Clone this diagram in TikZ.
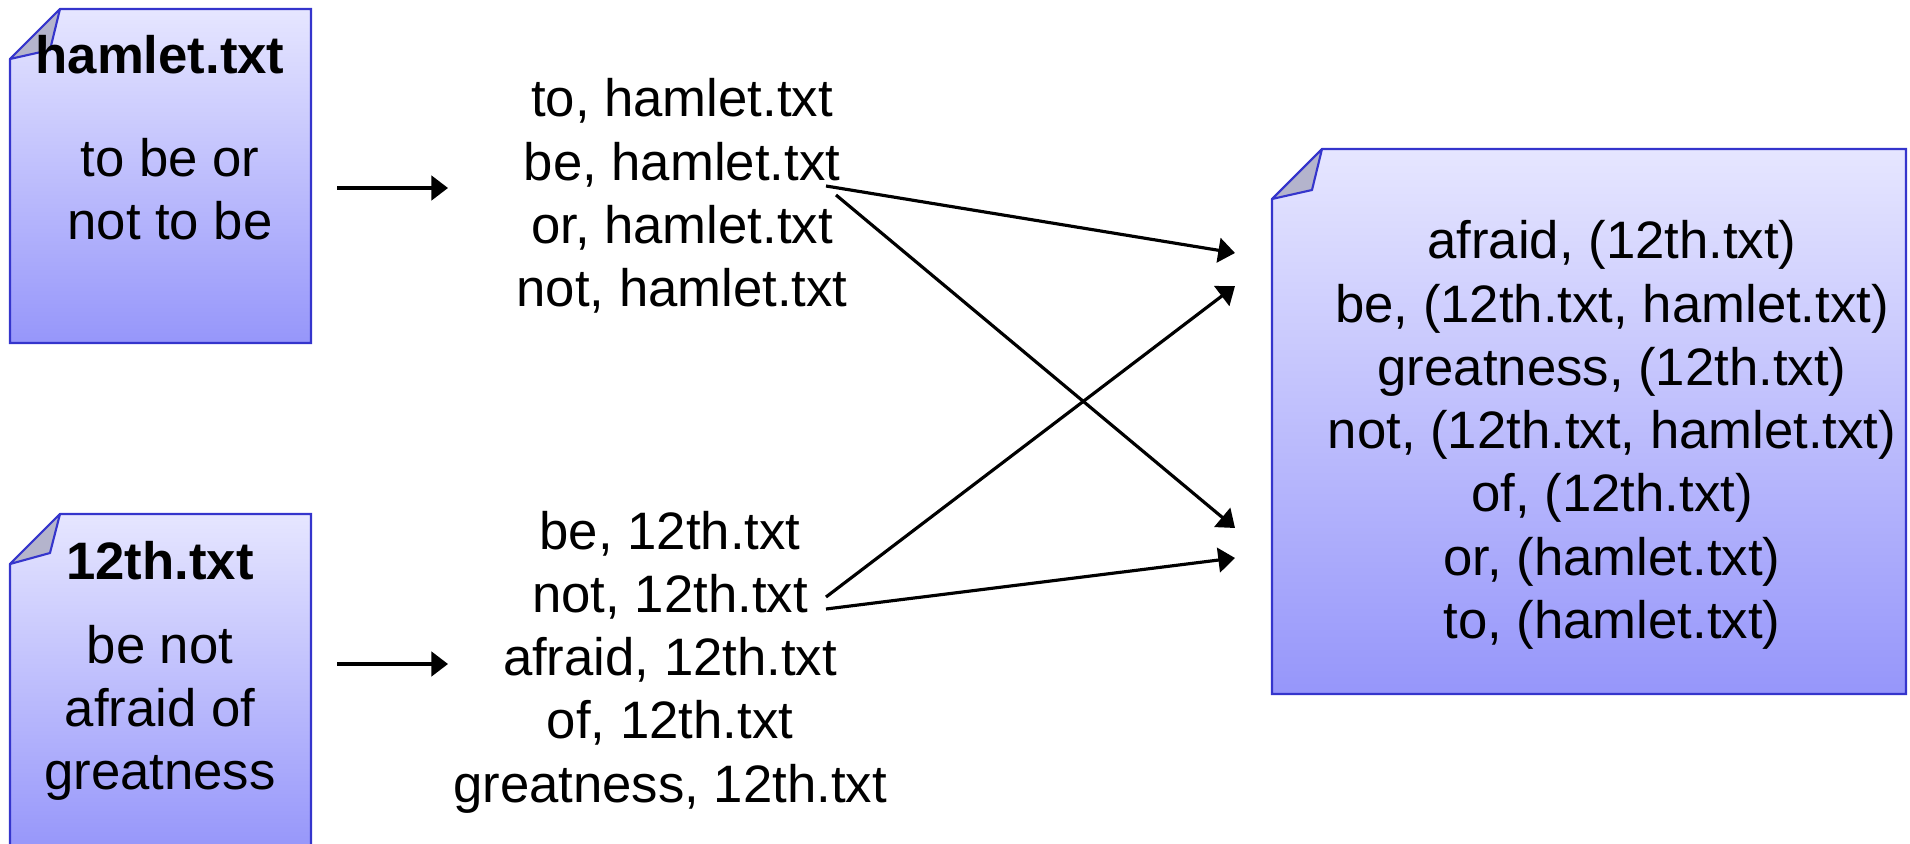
\documentclass[tikz,border=0pt]{standalone}
\usepackage{fontspec}
\setmainfont{Liberation Sans}
\usetikzlibrary{arrows.meta}
\definecolor{docblue}{HTML}{3535CC}
\definecolor{doctop}{HTML}{E6E6FF}
\definecolor{docbottom}{HTML}{9696FA}
\definecolor{earfill}{HTML}{B4B4CC}
\begin{document}
\begin{tikzpicture}[
        x=0.02cm, y=-0.02cm,
        font=\fontsize{30}{36}\selectfont
    ]
    \tikzset{
        docpage/.style = {draw=docblue, line width=1.2pt, top color=doctop, bottom color=docbottom},
        dogear/.style = {draw=docblue, line width=1.2pt, fill=earfill, line join=round},
        wordlist/.style = {align=center, inner sep=0pt},
        doctitle/.style = {inner sep=0pt, font=\fontsize{30}{36}\selectfont\bfseries},
        arr/.style = {-{Triangle[length=9.5pt, width=14pt]}, line width=1.8pt},
    }
    \useasboundingbox (0,0) rectangle (1910,844);
    \shade[docpage] (60,9) -- (311,9) -- (311,343) -- (10,343) -- (10,59) -- cycle;
    \filldraw[dogear] (60,9) -- (50,50) -- (10,59) -- cycle;
    \shade[docpage] (60,514) -- (311,514) -- (311,850) -- (10,850) -- (10,564) -- cycle;
    \filldraw[dogear] (60,514) -- (50,553) -- (10,564) -- cycle;
    \shade[docpage] (1322,149) -- (1906,149) -- (1906,694) -- (1272,694) -- (1272,199) -- cycle;
    \filldraw[dogear] (1322,149) -- (1312,190) -- (1272,199) -- cycle;
    \node[doctitle] (hamlettitle) at (160,55) {hamlet.txt};
    \node[wordlist] (hamlettext) at (170,189) {to be or\\not to be};
    \node[doctitle] (twelfthtitle) at (160,561) {12th.txt};
    \node[wordlist] (twelfthtext) at (160,713) {be not\\afraid of\\greatness};
    \node[wordlist] (hamletmap) at (682,196) {to, hamlet.txt\\be, hamlet.txt\\or, hamlet.txt\\not, hamlet.txt};
    \node[wordlist] (twelfthmap) at (670,662) {be, 12th.txt\\not, 12th.txt\\afraid, 12th.txt\\of, 12th.txt\\greatness, 12th.txt};
    \node[wordlist] (index) at (1612,435) {afraid, (12th.txt)\\be, (12th.txt, hamlet.txt)\\greatness, (12th.txt)\\not, (12th.txt, hamlet.txt)\\of, (12th.txt)\\or, (hamlet.txt)\\to, (hamlet.txt)};
    \coordinate (hamletout) at (337,188);
    \coordinate (hamletin) at (448,188);
    \coordinate (twelfthout) at (337,664);
    \coordinate (twelfthin) at (448,664);
    \coordinate (hbe) at (826,186);
    \coordinate (hnot) at (836,195);
    \coordinate (tbe) at (826,597);
    \coordinate (tnot) at (826,609);
    \coordinate (ina) at (1235,253);
    \coordinate (inb) at (1235,286);
    \coordinate (inc) at (1235,528);
    \coordinate (ind) at (1235,558);
    \draw[arr] (hamletout) -- (hamletin);
    \draw[arr] (twelfthout) -- (twelfthin);
    \draw[arr] (hbe) -- (ina);
    \draw[arr] (hnot) -- (inc);
    \draw[arr] (tbe) -- (inb);
    \draw[arr] (tnot) -- (ind);
\end{tikzpicture}
\end{document}
